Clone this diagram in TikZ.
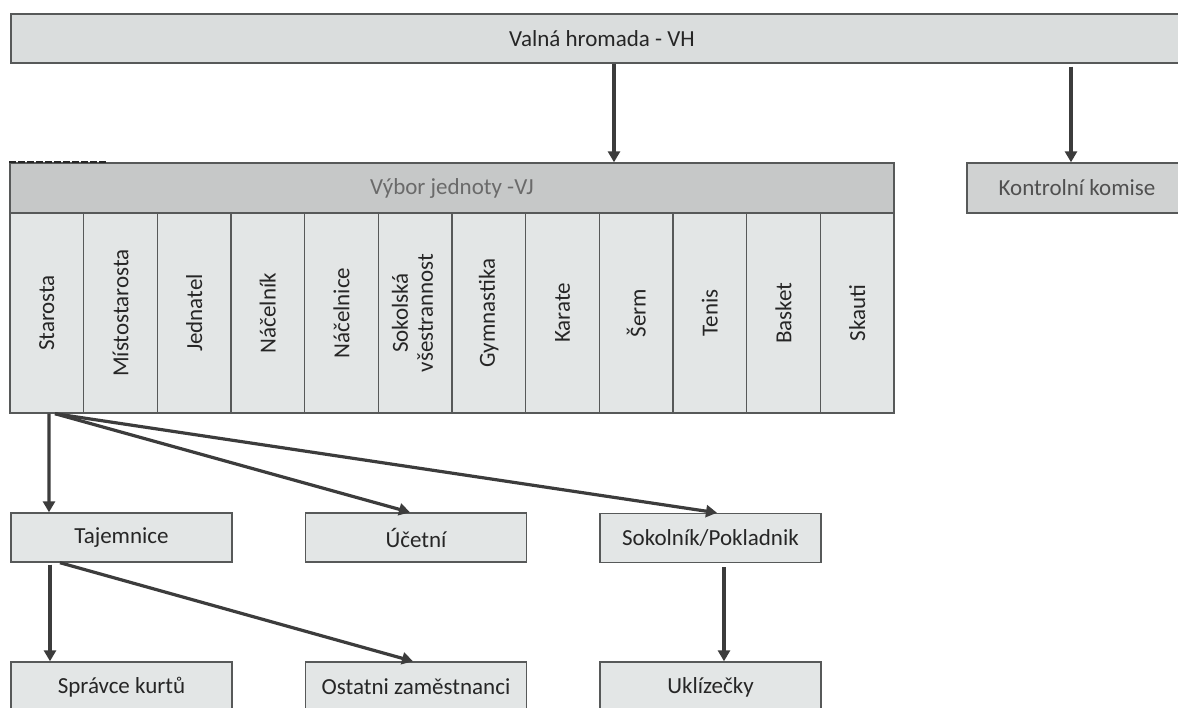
\documentclass[tikz,border=0pt]{standalone}
\usepackage{fontspec}
\setmainfont{Carlito}
\usetikzlibrary{arrows.meta}
\definecolor{boxline}{HTML}{575959}
\definecolor{vhfill}{HTML}{DADDDD}
\definecolor{vjfill}{HTML}{C6C8C8}
\definecolor{colfill}{HTML}{E3E6E6}
\definecolor{kkfill}{HTML}{D0D2D2}
\definecolor{txt}{HTML}{262626}
\definecolor{vjtxt}{HTML}{6A6A6A}
\definecolor{kktxt}{HTML}{505050}
\definecolor{arr}{HTML}{3C3C3C}
\tikzset{
  box/.style={draw=boxline, line width=1.4pt, rectangle, inner sep=0pt, text=txt,
    font=\fontsize{23}{26}\selectfont},
  colbox/.style={box, fill=colfill, minimum width=73.67pt, minimum height=200pt},
  lowbox/.style={box, fill=colfill, minimum width=221pt, minimum height=49pt},
  conn/.style={draw=arr, line width=3.2pt, -{Triangle[length=11pt,width=12pt]}}
}
\begin{document}
\begin{tikzpicture}[x=1pt,y=-1pt]
\useasboundingbox (0,0) rectangle (1178,708);
\clip (0,0) rectangle (1178,708);
\fill[white] (0,0) rectangle (1178,708);
% top
\node[box, fill=vhfill, minimum width=1182pt, minimum height=49pt] (vh) at (602,38.5) {Valná hromada - VH};
\node[box, fill=vjfill, text=vjtxt, minimum width=884pt, minimum height=50pt] (vj) at (452,188) {Výbor jednoty -VJ};
\node[box, fill=kkfill, text=kktxt, minimum width=220pt, minimum height=50pt] (kk) at (1077,188) {Kontrolní komise};
\draw[black!85, line width=2pt, dash pattern=on 7pt off 2pt] (vj.north west) -- ([xshift=97pt]vj.north west);
% columns
\node[colbox] (c1) at (46.83,313) {\rotatebox{90}{Starosta}};
\node[colbox] (c2) at (120.5,313) {\rotatebox{90}{Místostarosta}};
\node[colbox] (c3) at (194.17,313) {\rotatebox{90}{Jednatel}};
\node[colbox] (c4) at (267.83,313) {\rotatebox{90}{Náčelník}};
\node[colbox] (c5) at (341.5,313) {\rotatebox{90}{Náčelnice}};
\node[colbox] (c6) at (415.17,313) {\rotatebox{90}{\begin{tabular}{@{}c@{}}Sokolská\\[-1pt]všestrannost\end{tabular}}};
\node[colbox] (c7) at (488.83,313) {\rotatebox{90}{Gymnastika}};
\node[colbox] (c8) at (562.5,313) {\rotatebox{90}{Karate}};
\node[colbox] (c9) at (636.17,313) {\rotatebox{90}{Šerm}};
\node[colbox] (c10) at (709.83,313) {\rotatebox{90}{Tenis}};
\node[colbox] (c11) at (783.5,313) {\rotatebox{90}{Basket}};
\node[colbox] (c12) at (857.17,313) {\rotatebox{90}{Skauti}};
% lower boxes
\node[lowbox] (taj) at (121.5,537.5) {Tajemnice};
\node[lowbox] (uc) at (416,537.5) {Účetní};
\node[lowbox] (sok) at (710.5,538) {Sokolník/Pokladnik};
\node[lowbox, minimum height=50pt] (spr) at (121.5,687) {Správce kurtů};
\node[lowbox, minimum height=50pt] (ost) at (416,687) {Ostatni zaměstnanci};
\node[lowbox, minimum height=50pt] (ukl) at (710.5,687) {Uklízečky};
% connectors
\draw[conn] ([xshift=162pt]vj.north |- vh.south) -- ([xshift=162pt]vj.north);
\draw[conn] ([xshift=-6pt,yshift=-3pt]kk.north |- vh.south) -- ([xshift=-6pt]kk.north);
\draw[conn] ([xshift=2.2pt]c1.south) -- ([xshift=-72.5pt]taj.north);
\draw[conn] ([xshift=8.2pt]c1.south) -- ([xshift=-6pt]uc.north);
\draw[conn] ([xshift=8.2pt]c1.south) -- ([xshift=6.5pt]sok.north);
\draw[conn] ([xshift=-71.5pt,yshift=-2pt]taj.south) -- ([xshift=-71.5pt]spr.north);
\draw[conn] ([xshift=-61.5pt]taj.south) -- ([xshift=-3pt]ost.north);
\draw[conn] ([xshift=13.5pt,yshift=-4pt]sok.south) -- ([xshift=13.5pt]ukl.north);
\end{tikzpicture}
\end{document}
